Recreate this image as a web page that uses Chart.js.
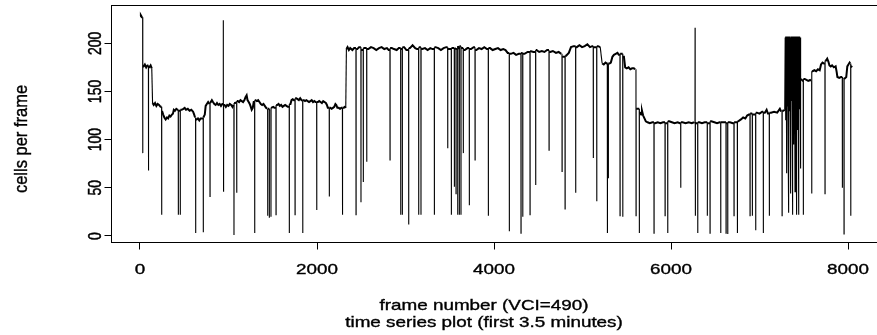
<!DOCTYPE html>
<html>
<head>
<meta charset="utf-8">
<script src="https://cdn.jsdelivr.net/npm/chart.js@4/dist/chart.umd.min.js"></script>
<style>
  html, body { margin: 0; padding: 0; background: #fff; overflow: hidden; }
  canvas { display: block; }
</style>
</head>
<body>
<canvas id="trace" width="890" height="335"></canvas>
<script>
// Running cell count: [frame, cells] where the count holds its level.
const levelTrace = [
  [1,228],[10,229],[22,227],[40,176],[55,178],[70,175],[85,177],[105,175],[120,177],[133,174],
  [142,138],[155,136],[170,138],[185,135],[200,137],[215,136],[232,134],
  [252,129],[262,126],[275,123],[290,121],[305,123],[318,122],[332,125],[345,124],[360,126],[372,127],
  [382,131],[395,130],[410,132],[425,131],[445,130],[470,131],[490,132],[505,133],[520,131],[540,132],[560,130],[580,131],[600,129],[612,126],
  [622,123],[640,121],[655,122],[670,120],[685,122],[700,122],[722,123],[732,126],
  [742,135],[755,137],[770,139],[785,137],[800,138],[812,141],[825,139],[840,137],[855,136],[870,138],[885,136],[900,137],[915,135],[930,137],
  [955,136],[970,134],[985,136],[1000,135],[1015,137],[1030,136],[1045,134],[1055,136],
  [1075,138],[1085,139],[1105,140],[1120,139],[1135,141],[1150,140],[1165,139],[1180,141],[1192,144],[1205,146],[1215,141],[1228,139],[1240,137],[1252,134],[1262,131],[1274,133],[1285,139],
  [1305,141],[1320,140],[1335,141],[1350,139],[1365,137],[1380,136],[1395,137],[1410,135],[1425,133],[1436,132],
  [1452,132],[1470,131],[1490,133],[1505,134],[1520,133],
  [1550,136],[1565,137],[1580,135],[1595,136],[1610,134],[1625,135],[1640,136],[1655,135],[1670,134],
  [1700,137],[1712,141],[1725,142],[1740,141],[1765,143],[1780,142],[1795,141],[1810,143],[1825,141],
  [1852,141],[1865,140],[1880,141],[1895,140],[1910,139],[1925,140],[1940,141],[1955,139],[1970,140],[1985,139],
  [2010,139],[2025,140],[2040,139],[2055,138],[2070,140],[2085,139],[2100,138],[2112,136],[2122,133],
  [2150,133],[2165,132],[2180,133],[2195,134],[2208,137],[2218,136],[2230,133],[2245,133],[2260,132],[2275,133],
  [2300,133],[2315,134],[2325,133],
  [2332,194],[2345,196],[2360,193],[2375,195],[2400,193],[2420,195],[2455,194],[2475,196],[2510,193],[2540,195],
  [2580,194],[2610,196],[2640,195],[2670,193],[2700,195],[2730,196],[2760,194],[2790,195],[2810,193],[2845,195],
  [2870,194],[2900,193],[2925,195],[2955,194],[2985,196],[3010,193],[3050,195],[3080,198],[3110,195],[3130,194],
  [3160,196],[3190,194],[3220,195],[3250,193],[3280,195],[3305,194],[3340,196],[3370,195],[3400,193],[3430,195],
  [3460,196],[3490,194],[3530,195],[3580,194],[3615,197],[3640,195],[3670,193],[3700,195],[3740,194],[3770,196],
  [3800,193],[3830,195],[3860,194],[3890,196],[3920,194],[3955,195],[3985,193],[4015,194],[4045,195],[4075,193],
  [4105,194],[4130,193],[4155,190],[4190,189],[4220,190],[4250,188],[4280,189],[4315,190],[4345,189],[4380,191],
  [4415,192],[4445,191],[4480,193],[4510,191],[4540,192],[4570,191],[4600,193],[4635,191],[4665,192],[4700,190],
  [4730,191],[4760,189],[4785,186],[4815,187],[4845,190],[4870,196],[4900,197],[4935,196],[4965,198],[4995,196],
  [5025,197],[5055,199],[5085,196],[5110,197],[5140,196],[5175,197],[5200,196],
  [5222,179],[5240,178],[5260,180],[5275,179],[5305,179],[5320,180],[5338,186],[5355,188],[5375,189],[5395,190],
  [5410,188],[5440,189],[5468,186],[5482,175],[5500,174],[5520,175],[5540,173],[5560,174],[5580,174],[5595,173],
  [5618,132],[5650,128],[5662,126],[5672,130],[5685,125],[5700,122],[5715,119],[5735,118],
  [5760,117],[5790,118],[5820,117],[5850,118],[5880,117],[5910,118],[5945,117],[5980,119],[6010,118],[6040,117],
  [6075,118],[6100,117],[6130,118],[6165,117],[6200,118],[6235,117],[6260,118],[6290,117],[6320,118],[6350,117],
  [6380,118],[6420,117],[6455,119],[6490,118],[6520,117],[6550,118],[6590,118],[6630,117],[6665,118],[6700,117],
  [6730,118],[6760,119],[6790,121],[6815,123],[6840,122],[6860,125],[6880,126],[6900,127],[6935,126],[6970,128],
  [7000,127],[7030,129],[7060,128],[7080,131],[7095,127],[7130,128],[7165,129],[7200,128],[7230,132],[7245,129],[7270,130],
  [7285,131],
  // rapid flicker between ~207 cells and partial counts
  [7290,206],[7293,150],[7296,207],[7299,120],[7302,206],[7305,65],[7308,207],[7311,135],[7314,206],[7317,160],
  [7320,207],[7323,100],[7326,206],[7329,24],[7332,207],[7335,130],[7338,206],[7341,155],[7344,207],[7347,118],
  [7350,206],[7353,44],[7356,207],[7359,140],[7362,206],[7365,165],[7368,207],[7371,22],[7374,206],[7377,128],
  [7380,207],[7383,150],[7386,206],[7389,95],[7392,207],[7395,138],[7398,206],[7401,46],[7404,207],[7407,160],
  [7410,206],[7413,125],[7416,207],[7419,22],[7422,206],[7425,145],[7428,207],[7431,110],[7434,206],[7437,158],
  [7440,207],[7443,22],[7446,206],[7449,132],[7452,207],[7455,150],[7458,206],[7461,70],[7464,205],[7468,163],
  [7478,162],[7488,161],[7510,163],[7530,162],[7550,161],[7570,162],[7582,161],[7600,171],[7620,172],[7640,171],
  [7660,173],[7680,172],[7695,178],[7712,180],[7728,179],[7752,182],[7765,184],[7778,181],[7790,177],[7805,176],
  [7820,177],[7840,175],[7860,176],[7872,170],[7880,165],[7900,164],[7920,165],[7945,164],[7965,163],[7980,165],
  [7992,176],[8005,178],[8018,180],[8025,179],[8038,176],[8045,175]
];

// Single-frame dropouts (and two single-frame surges): [frame, cells].
const singleFrameEvents = [
  [31,86],[96,68],[245,22],[433,22],[455,22],[629,3],[715,4],[791,41],[941,224],[944,46],[1062,1],[1093,45],
  [1296,3],[1443,21],[1461,19],[1480,20],[1537,22],[1687,3],[1752,22],[1839,3],[1997,27],[2139,41],[2288,22],
  [2441,22],[2497,35],[2523,56],[2562,77],[2825,79],[2946,22],[2964,22],[3036,12],[3149,22],[3175,22],[3326,22],
  [3477,91],[3518,22],[3552,51],[3571,44],[3590,22],[3608,22],[3627,22],[3653,86],[3721,32],[3786,79],[3936,21],
  [4173,5],[4305,3],[4325,20],[4407,22],[4471,53],[4622,89],[4769,67],[4803,28],[4923,45],[5122,81],[5161,36],
  [5281,3],[5292,60],[5424,21],[5455,20],[5605,21],[5642,3],
  [5808,3],[5933,21],[5963,3],[6110,50],[6272,216],[6275,21],[6302,3],[6410,21],[6441,3],[6562,3],[6622,3],
  [6641,2],[6712,21],[6750,3],[6893,21],[6919,21],[6957,6],[7043,3],[7111,21],[7255,21],
  [7495,22],[7590,44],[7740,44],[7936,50],[7955,2],[8031,21]
];

const xTickValues = [0, 2000, 4000, 6000, 8000];
const yTickValues = [0, 50, 100, 150, 200];
const xTitleLines = ['frame number (VCI=490)', 'time series plot (first 3.5 minutes)'];
const yTitle = 'cells per frame';

// A dropout lasts one frame: the count sits at the surrounding level on either side.
const series = levelTrace.map(([x, y]) => ({ x, y }));
singleFrameEvents.forEach(([f, v]) => {
  const k = levelTrace.findIndex(p => p[0] > f);
  series.push({ x: f - 1, y: levelTrace[k - 1][1] }, { x: f, y: v }, { x: f + 1, y: levelTrace[k][1] });
});
series.sort((a, b) => a.x - b.x);

const FONT = '"Liberation Sans", Arial, Helvetica, sans-serif';

// Text drawn widened along the page's horizontal direction.
function drawText(ctx, text, x, y, size, rotated, stretch) {
  ctx.save();
  ctx.translate(x, y);
  if (rotated) {
    ctx.rotate(-Math.PI / 2);
    ctx.scale(1, stretch);
  } else {
    ctx.scale(stretch, 1);
  }
  ctx.font = size + 'px ' + FONT;
  ctx.fillStyle = '#000';
  ctx.strokeStyle = '#000';
  ctx.lineWidth = 0.35;
  ctx.textAlign = 'center';
  ctx.textBaseline = 'middle';
  ctx.fillText(text, 0, 0);
  ctx.strokeText(text, 0, 0);
  ctx.restore();
}

const framePlugin = {
  id: 'framePlugin',
  afterDraw(chart) {
    const { ctx, chartArea: a, scales: { x, y } } = chart;
    ctx.save();
    ctx.strokeStyle = '#000';
    ctx.lineWidth = 1;
    ctx.strokeRect(a.left, a.top, a.right - a.left, a.bottom - a.top);
    ctx.restore();
    xTickValues.forEach(v => drawText(ctx, String(v), x.getPixelForValue(v), 270, 14.5, false, 1.3));
    yTickValues.forEach(v => drawText(ctx, String(v), 96, y.getPixelForValue(v), 14, true, 1.3));
    drawText(ctx, xTitleLines[0], 484, 306, 14.5, false, 1.3);
    drawText(ctx, xTitleLines[1], 484, 323, 14.5, false, 1.3);
    drawText(ctx, yTitle, 22, 139, 16.5, true, 1.1);
  }
};

const tickGrid = { drawOnChartArea: false, drawTicks: true, tickLength: 7, color: '#000', lineWidth: 1 };

new Chart(document.getElementById('trace'), {
  type: 'line',
  data: {
    datasets: [{
      data: series,
      borderColor: '#000',
      borderWidth: 2,
      pointRadius: 0,
      tension: 0,
      segment: {
        borderWidth: c => Math.abs(c.p1.parsed.y - c.p0.parsed.y) > 12 ? 1.1 : 2
      }
    }]
  },
  options: {
    responsive: false,
    animation: false,
    devicePixelRatio: 1,
    layout: { padding: { top: 5.5, right: 9.5, left: 0, bottom: 0 } },
    plugins: { legend: { display: false }, tooltip: { enabled: false } },
    scales: {
      x: {
        type: 'linear',
        min: -322,
        max: 8367,
        afterBuildTicks: s => { s.ticks = xTickValues.map(v => ({ value: v })); },
        afterFit: s => { s.height = 92.5; },
        ticks: { display: false },
        grid: tickGrid,
        border: { display: false }
      },
      y: {
        type: 'linear',
        min: -6.75,
        max: 239.2,
        afterBuildTicks: s => { s.ticks = yTickValues.map(v => ({ value: v })); },
        afterFit: s => { s.width = 111.5; },
        ticks: { display: false },
        grid: tickGrid,
        border: { display: false }
      }
    }
  },
  plugins: [framePlugin]
});
</script>
</body>
</html>
